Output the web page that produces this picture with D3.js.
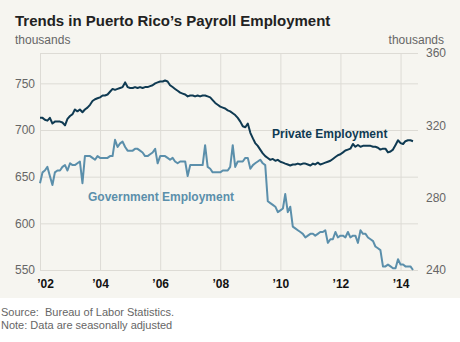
<!DOCTYPE html>
<html><head><meta charset="utf-8">
<script src="https://cdn.jsdelivr.net/npm/d3@7"></script>
<style>
body{margin:0;background:#fff;font-family:"Liberation Sans",Arial,sans-serif;}
svg{display:block;}
</style></head><body>
<svg id="c" width="460" height="342"></svg>
<script>
const startYear = 2002, startMonth = 0;
const privateValues = [713,713,711,710,713,707,709,709,709,708,705,712,715,717,722,720,722,719,722,724,
727,731,733,734,735,737,737,738,741,744,743,744,745,746,751,746,745,745,746,745,
746,745,746,746,747,748,750,751,752,752,753,752,748,746,744,742,740,739,738,736,
737,737,736,737,736,737,737,736,735,732,729,727,725,724,723,721,720,718,716,713,
709,704,703,707,697,691,686,683,679,675,672,670,668,669,667,668,666,665,664,663,
662,663,663,664,663,664,664,663,662,664,663,665,663,664,665,666,667,669,671,673,
674,676,678,679,680,685,682,684,682,683,683,683,683,682,682,681,679,680,680,676,
677,679,684,689,686,685,688,689,689,688];
const governmentValues = [288,294,295,297,292,287,294,295,295,297,298,295,299,298,298,299,300,288,303,303,
303,302,301,303,302,302,302,302,303,303,312,308,310,311,308,306,306,306,307,307,
306,305,303,303,304,305,307,299,303,303,303,302,301,302,300,299,300,300,300,292,
298,298,298,298,298,298,309,297,296,294,294,294,294,295,295,295,297,309,297,300,
300,300,302,302,296,298,299,300,301,299,298,278,277,276,275,272,273,274,282,272,
275,264,263,262,261,260,258,259,260,260,259,260,261,261,262,255,257,257,261,258,
259,259,258,261,258,259,259,255,262,260,260,258,257,256,253,252,251,242,242,243,
242,241,241,246,243,243,242,242,242,240];
const leftTicks = [550,600,650,700,750];
const rightTicks = [240,280,320,360];
const yearTicks = [2002,2004,2006,2008,2010,2012,2014];
const titleText = "Trends in Puerto Rico\u2019s Payroll Employment";
const unitLabel = "thousands";
const privateLabel = "Private Employment";
const governmentLabel = "Government Employment";
const sourceLines = ["Source:\u00a0 Bureau of Labor Statistics.", "Note: Data are seasonally adjusted"];

const privColor = "#0f3a52", govColor = "#5b8fab";
const svg = d3.select("#c");
svg.append("rect").attr("x",0).attr("y",0).attr("width",460).attr("height",298).attr("fill","#f6f5f0");

const L = 40, R = 418, T = 53, B = 270;
const x = d3.scaleTime().domain([new Date(2002,0,1), new Date(2014,7,1)]).range([L, R]);
const yL = d3.scaleLinear().domain([550, 550 + (B-T)/(46.667/50)]).range([B, T]);
const yR = d3.scaleLinear().domain([240, 360]).range([B, T]);

const dateOf = i => new Date(startYear, startMonth + i, 1);

// grid + left axis
const gl = svg.append("g").attr("transform",`translate(${L},0)`)
  .call(d3.axisLeft(yL).tickValues(leftTicks).tickSize(-(R-L)).tickPadding(5));
gl.select(".domain").remove();
gl.selectAll("line").attr("stroke","#dddbd5").attr("stroke-width",1);
gl.selectAll("text").attr("fill","#666").attr("font-size","12px").attr("font-family","Liberation Sans, Arial, sans-serif");

// top border line
svg.append("line").attr("x1",L).attr("x2",R).attr("y1",T+0.5).attr("y2",T+0.5).attr("stroke","#dddbd5");

const gb = svg.append("g").attr("transform",`translate(0,${B})`)
  .call(d3.axisBottom(x).tickValues(yearTicks.map(y=>new Date(y,0,1))).tickSize(-(B-T))
    .tickFormat(d => "\u2019" + String(d.getFullYear()).slice(2)));
gb.select(".domain").remove();
gb.selectAll("line").attr("stroke","#dddbd5");
gb.selectAll("text").attr("fill","#111").attr("font-size","12px").attr("font-weight","bold")
  .attr("font-family","Liberation Sans, Arial, sans-serif").attr("y",9).attr("dy","0.71em");
gb.selectAll(".tick").filter((d,i)=>i===0).select("text").attr("dx",5);

const gr = svg.append("g").attr("transform",`translate(${R},0)`)
  .call(d3.axisRight(yR).tickValues(rightTicks).tickSize(0).tickPadding(8));
gr.select(".domain").remove();
gr.selectAll("text").attr("fill","#666").attr("font-size","12px").attr("font-family","Liberation Sans, Arial, sans-serif");

// lines
const lineP = d3.line().x((d,i)=>x(dateOf(i))).y(d=>yL(d));
const lineG = d3.line().x((d,i)=>x(dateOf(i))).y(d=>yR(d));
svg.append("path").datum(governmentValues).attr("d",lineG).attr("fill","none")
  .attr("stroke",govColor).attr("stroke-width",2).attr("stroke-linejoin","round");
svg.append("path").datum(privateValues).attr("d",lineP).attr("fill","none")
  .attr("stroke",privColor).attr("stroke-width",2).attr("stroke-linejoin","round");

// labels
svg.append("text").attr("x",272).attr("y",138).text(privateLabel)
  .attr("fill",privColor).attr("font-weight","bold").attr("font-size","12px");
svg.append("text").attr("x",88).attr("y",201).text(governmentLabel)
  .attr("fill",govColor).attr("font-weight","bold").attr("font-size","12px");

// title and units
svg.append("text").attr("x",15).attr("y",26).text(titleText)
  .attr("fill","#222").attr("font-weight","bold").attr("font-size","15px");
svg.append("text").attr("x",15).attr("y",44).text(unitLabel).attr("fill","#666").attr("font-size","12px");
svg.append("text").attr("x",444).attr("y",44).attr("text-anchor","end").text(unitLabel).attr("fill","#666").attr("font-size","12px");

// footer
sourceLines.forEach((s,i)=>{
  svg.append("text").attr("x",1).attr("y",316 + i*13).text(s).attr("fill","#666").attr("font-size","11px");
});
</script>
</body></html>
